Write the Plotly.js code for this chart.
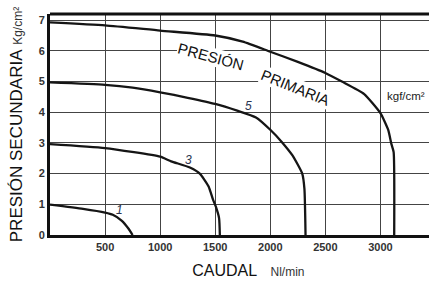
<!DOCTYPE html>
<html>
<head>
<meta charset="utf-8">
<script src="https://cdn.plot.ly/plotly-3.0.1.min.js"></script>
<style>html,body{margin:0;padding:0;background:#fff;}</style>
</head>
<body>
<div id="chart" style="width:429px;height:282px;"></div>
<script>
// Secondary-pressure curves (kgf/cm²) vs flow (Nl/min), per primary pressure
const flow7 = [0, 500, 1000, 1500, 1750, 2000, 2250, 2500, 2650, 2850, 3000, 3070, 3100, 3120, 3125];
const pres7 = [6.93, 6.83, 6.66, 6.5, 6.3, 5.97, 5.64, 5.28, 5.0, 4.6, 3.97, 3.43, 2.96, 2.7, 0];

const flow5 = [0, 500, 750, 1000, 1250, 1500, 1700, 1870, 2000, 2100, 2200, 2290, 2310, 2320];
const pres5 = [4.97, 4.89, 4.8, 4.65, 4.47, 4.27, 4.05, 3.83, 3.43, 3.05, 2.6, 2.0, 1.5, 0];

const flow3 = [0, 500, 1000, 1100, 1270, 1360, 1440, 1480, 1505, 1535, 1542];
const pres3 = [2.96, 2.83, 2.55, 2.4, 2.2, 2.0, 1.58, 1.15, 0.93, 0.55, 0];

const flow1 = [0, 300, 500, 570, 650, 710, 750];
const pres1 = [0.99, 0.85, 0.73, 0.66, 0.47, 0.22, 0];

const xTicks = [500, 1000, 1500, 2000, 2500, 3000];
const yTicks = [0, 1, 2, 3, 4, 5, 6, 7];

const curveLabels = ['1', '3', '5'];
const curveLabelX = [632, 1259, 1805];
const curveLabelY = [0.83, 2.45, 4.2];

const FONT = 'Liberation Sans, Arial, sans-serif';
const lineStyle = {color: '#151515', width: 2.3, shape: 'spline', smoothing: 0.5};

const traces = [
  {x: flow7, y: pres7, name: '7', mode: 'lines', line: lineStyle},
  {x: flow5, y: pres5, name: '5', mode: 'lines', line: lineStyle},
  {x: flow3, y: pres3, name: '3', mode: 'lines', line: lineStyle},
  {x: flow1, y: pres1, name: '1', mode: 'lines', line: lineStyle}
];

const annotations = curveLabels.map((t, i) => ({
  x: curveLabelX[i], y: curveLabelY[i], xref: 'x', yref: 'y', text: t, showarrow: false,
  font: {family: FONT, size: 12, color: '#2a3550', style: 'italic'}
}));
annotations.push(
  {x: 1460, y: 5.8, xref: 'x', yref: 'y', text: 'PRESIÓN', showarrow: false, textangle: 15,
   bgcolor: '#ffffff', borderpad: 0, font: {family: FONT, size: 15, color: '#111'}},
  {x: 2230, y: 4.8, xref: 'x', yref: 'y', text: 'PRIMARIA', showarrow: false, textangle: 22,
   bgcolor: '#ffffff', borderpad: 0, font: {family: FONT, size: 15, color: '#111'}},
  {x: 0.996, y: 4.53, xref: 'paper', yref: 'y', text: 'kgf/cm²', showarrow: false, xanchor: 'right',
   font: {family: FONT, size: 11.5, color: '#222'}}
);

const layout = {
  width: 429, height: 282,
  margin: {l: 50, r: 0, t: 14, b: 47},
  paper_bgcolor: '#fff', plot_bgcolor: '#fff',
  showlegend: false,
  font: {family: FONT},
  xaxis: {
    range: [0, 3441], tickvals: xTicks, ticktext: xTicks.map(String),
    showgrid: true, gridcolor: '#444', gridwidth: 1, zeroline: false,
    showline: true, linecolor: '#111', linewidth: 3, ticks: '',
    tickfont: {family: FONT, size: 11, color: '#333', weight: 'bold'},
    title: {text: '&nbsp;&nbsp;&nbsp;&nbsp;CAUDAL&nbsp;&nbsp;&nbsp;<span style="font-size:12px;color:#333">Nl/min</span>', font: {family: FONT, size: 16, color: '#111'}, standoff: 13}
  },
  yaxis: {
    range: [0, 7.2], tickvals: yTicks, ticktext: yTicks.map(String),
    showgrid: true, gridcolor: '#444', gridwidth: 1, zeroline: false,
    showline: true, linecolor: '#111', linewidth: 3, ticks: '',
    tickfont: {family: FONT, size: 11, color: '#333', weight: 'bold'},
    title: {text: 'PRESIÓN SECUNDARIA&nbsp;<span style="font-size:12px;color:#333">Kg/cm²</span>', font: {family: FONT, size: 17, color: '#111'}, standoff: 12}
  },
  shapes: [
    {type: 'line', xref: 'paper', yref: 'paper', x0: 0, x1: 1, y0: 1, y1: 1, line: {color: '#111', width: 3}}
  ],
  annotations: annotations
};

Plotly.newPlot('chart', traces, layout, {staticPlot: true, displayModeBar: false});
</script>
</body>
</html>
